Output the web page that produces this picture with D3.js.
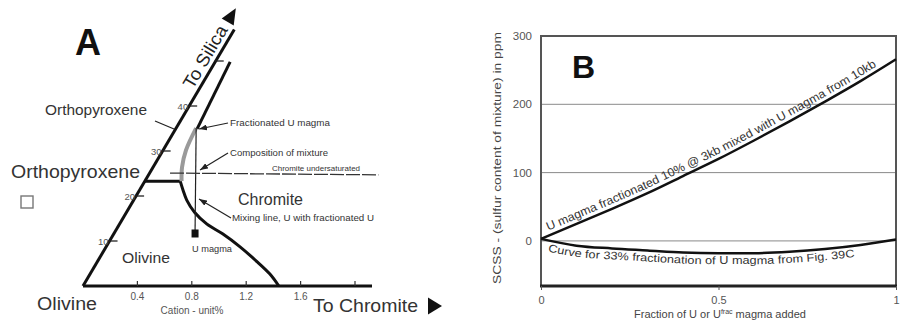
<!DOCTYPE html>
<html>
<head>
<meta charset="utf-8">
<script src="https://cdn.jsdelivr.net/npm/d3@7"></script>
<style>
  body { margin: 0; background: #fff; }
  svg { display: block; }
  text { font-family: "Liberation Sans", Arial, Helvetica, sans-serif; }
</style>
</head>
<body>
<svg id="chart" width="901" height="324"></svg>
<script>
// ---------------- Panel A data: pseudo-ternary, [chromite cation %, silica] ----------------
const chromiteTicks = [0.4, 0.8, 1.2, 1.6, 2.0];
const chromiteTickLabels = ["0.4", "0.8", "1.2", "1.6", ""];
const silicaTicks = [10, 20, 30, 40, 50];
const silicaTickLabels = ["10", "20", "30", "40", ""];
const silicaAxisTop = 57;
const chromiteAxisEnd = 2.125;
const opxOlivineBoundary = [[0, 23.3], [0.26, 23.3]];
const olivineChromiteBoundary = [
  [0.26, 23.3], [0.32, 21.3], [0.39, 19.1], [0.50, 16.4], [0.64, 13.8],
  [0.80, 11.6], [0.985, 8.7], [1.18, 5.3], [1.32, 2.7], [1.44, 0]
];
const opxChromiteBoundary = [[0.158, 34.9], [0.11, 49.8]];
const fractionationPath = [[0.147, 35.1], [0.168, 30.2], [0.213, 26.4], [0.27, 23.3]];
const mixingLine = [[0.147, 35.1], [0.594, 11.78]];
const saturationLine = [[0.15, 25.1], [1.69, 24.7]];
const uMagma = [0.594, 11.78];

// ---------------- Panel B data ----------------
const fraction = [0, 0.1, 0.2, 0.3, 0.4, 0.5, 0.6, 0.7, 0.8, 0.9, 1.0];
const mixedSulfur = [3, 25, 47, 70, 95, 120, 147, 175, 204, 234, 266];
const fractionatedSulfur = [3, -7, -11, -14, -17, -18, -18, -16, -12, -6, 2];
const sulfurTicks = [0, 100, 200, 300];
const fractionTicks = [0, 0.5, 1];
const fractionTickLabels = ["0", "0.5", "1"];

const svg = d3.select("#chart");

const defs = svg.append("defs");
defs.append("marker")
  .attr("id", "leadArrow")
  .attr("viewBox", "0 0 8 6")
  .attr("refX", 8).attr("refY", 3)
  .attr("markerWidth", 8).attr("markerHeight", 6)
  .attr("markerUnits", "userSpaceOnUse")
  .attr("orient", "auto")
  .append("path").attr("d", "M0,0L8,3L0,6Z").attr("fill", "#222");

// ================= Panel A =================
const gA = svg.append("g");
const cx = d3.scaleLinear().domain([0, 2]).range([83, 355]);
const sy = d3.scaleLinear().domain([0, 50]).range([286, 61]);
const lean = 151 / 256;                       // silica axis drifts right as it rises
const px = d => cx(d[0]) + (sy(0) - sy(d[1])) * lean;
const py = d => sy(d[1]);
const lineA = d3.line().x(px).y(py);
const smoothA = d3.line().x(px).y(py).curve(d3.curveCatmullRom.alpha(0.5));

// axes
gA.append("path").attr("d", lineA([[0, 0], [chromiteAxisEnd, 0]]))
  .attr("stroke", "#111").attr("stroke-width", 3).attr("fill", "none");
gA.append("path").attr("d", lineA([[0, 0], [0, silicaAxisTop]]))
  .attr("stroke", "#111").attr("stroke-width", 3).attr("fill", "none");

// chromite ticks
gA.selectAll(".ct").data(chromiteTicks).join("line")
  .attr("x1", d => px([d, 0])).attr("x2", d => px([d, 0]))
  .attr("y1", sy(0)).attr("y2", sy(0) - 5)
  .attr("stroke", "#333").attr("stroke-width", 1.2);
gA.selectAll(".ctl").data(chromiteTicks).join("text")
  .attr("x", d => px([d, 0])).attr("y", 300)
  .attr("text-anchor", "middle").attr("font-size", 10).attr("fill", "#555")
  .text((d, i) => chromiteTickLabels[i]);
gA.append("text").attr("x", 192).attr("y", 314).attr("text-anchor", "middle")
  .attr("font-size", 10).attr("fill", "#555").text("Cation - unit%");

// silica ticks
gA.selectAll(".st").data(silicaTicks).join("line")
  .attr("x1", d => px([0, d]) - 1).attr("x2", d => px([0, d]) + 8)
  .attr("y1", d => sy(d)).attr("y2", d => sy(d))
  .attr("stroke", "#222").attr("stroke-width", 1.3);
gA.selectAll(".stl").data(silicaTicks).join("text")
  .attr("x", d => px([0, d]) - 1).attr("y", d => sy(d) + 3.5)
  .attr("text-anchor", "end").attr("font-size", 9.5).attr("fill", "#555")
  .text((d, i) => silicaTickLabels[i]);

// arrow heads at axis ends
const tipS = silicaAxisTop + 3;
gA.append("path").attr("d", "M0,-9L7,7L-7,7Z")
  .attr("transform", `translate(${px([0, tipS]) - 11},${sy(tipS)}) rotate(${Math.atan(lean) * 180 / Math.PI})`)
  .attr("fill", "#111");
gA.append("path").attr("d", "M0,-8.5L14,0L0,8.5Z")
  .attr("transform", "translate(428,306)").attr("fill", "#111");

// phase boundaries
gA.append("path").attr("d", lineA(opxOlivineBoundary))
  .attr("stroke", "#111").attr("stroke-width", 3).attr("fill", "none");
gA.append("path").attr("d", smoothA(olivineChromiteBoundary))
  .attr("stroke", "#111").attr("stroke-width", 3).attr("fill", "none");
gA.append("path").attr("d", lineA(opxChromiteBoundary))
  .attr("stroke", "#111").attr("stroke-width", 3).attr("fill", "none");
gA.append("path").attr("d", smoothA(fractionationPath))
  .attr("stroke", "#9a9a9a").attr("stroke-width", 4).attr("fill", "none");

// mixing line and saturation line
gA.append("path").attr("d", lineA(mixingLine))
  .attr("stroke", "#222").attr("stroke-width", 1.2).attr("fill", "none");
gA.append("path").attr("d", lineA(saturationLine))
  .attr("stroke", "#333").attr("stroke-width", 1.3).attr("fill", "none")
  .attr("stroke-dasharray", "14,2");

// U magma
gA.append("rect")
  .attr("x", px(uMagma) - 3.5).attr("y", py(uMagma) - 3.5)
  .attr("width", 7).attr("height", 8).attr("fill", "#111");

// leader lines
const leaders = [
  [228, 123, 199, 129],
  [228, 153, 200, 170],
  [231, 218, 199, 199]
];
gA.selectAll(".lead").data(leaders).join("line")
  .attr("x1", d => d[0]).attr("y1", d => d[1])
  .attr("x2", d => d[2]).attr("y2", d => d[3])
  .attr("stroke", "#222").attr("stroke-width", 1.2)
  .attr("marker-end", "url(#leadArrow)");
gA.append("line").attr("x1", 155).attr("y1", 121).attr("x2", 174).attr("y2", 129)
  .attr("stroke", "#222").attr("stroke-width", 1.3);

// labels
function labelA(x, y, txt, size, width, opts = {}) {
  const t = gA.append("text").attr("x", x).attr("y", y)
    .attr("font-size", size).attr("fill", opts.fill || "#333")
    .attr("font-weight", opts.weight || "normal").text(txt);
  if (width) t.attr("textLength", width).attr("lengthAdjust", "spacingAndGlyphs");
  return t;
}
labelA(75, 55, "A", 36, null, { weight: "bold", fill: "#111" });
labelA(45, 115, "Orthopyroxene", 15, 102);
labelA(11, 178, "Orthopyroxene", 18.5, 129);
labelA(122, 263, "Olivine", 15, 48);
labelA(37, 310, "Olivine", 18, 60);
labelA(238, 205, "Chromite", 16, 65);
labelA(313, 312, "To Chromite", 19, 105);
labelA(230, 126, "Fractionated U magma", 8.5, 100);
labelA(230, 156, "Composition of mixture", 8.5, 98);
labelA(272, 171, "Chromite undersaturated", 8, 88);
labelA(232, 221, "Mixing line, U with fractionated U", 8.5, 142);
labelA(192, 252, "U magma", 8.5, 40);

gA.append("rect").attr("x", 21).attr("y", 196).attr("width", 12).attr("height", 12)
  .attr("fill", "none").attr("stroke", "#777").attr("stroke-width", 1.4);

const silicaAngle = -Math.atan2(1, lean) * 180 / Math.PI;
gA.append("text")
  .attr("transform", `translate(${px([0, 43]) - 4.5},${sy(43) - 2.5}) rotate(${silicaAngle})`)
  .attr("font-size", 18).attr("fill", "#222")
  .attr("textLength", 70).attr("lengthAdjust", "spacingAndGlyphs")
  .text("To Silica");

// ================= Panel B =================
const gB = svg.append("g");
const bx = d3.scaleLinear().domain([0, 1]).range([541, 896]);
const by = d3.scaleLinear().domain([-66, 300]).range([286, 36]);

// grid
gB.selectAll(".grid").data([0, 100, 200]).join("line")
  .attr("x1", bx(0)).attr("x2", bx(1))
  .attr("y1", d => by(d)).attr("y2", d => by(d))
  .attr("stroke", "#8a8a8a").attr("stroke-width", 1);

// frame
gB.append("rect").attr("x", bx(0)).attr("y", by(300))
  .attr("width", bx(1) - bx(0)).attr("height", by(-66) - by(300))
  .attr("fill", "none").attr("stroke", "#555").attr("stroke-width", 2);
gB.append("line").attr("x1", bx(0) - 1).attr("x2", bx(1) + 1)
  .attr("y1", by(-66)).attr("y2", by(-66))
  .attr("stroke", "#222").attr("stroke-width", 3);

// axes
const yAxis = d3.axisLeft(by).tickValues(sulfurTicks).tickSize(0).tickPadding(9);
gB.append("g").attr("transform", `translate(${bx(0)},0)`).call(yAxis)
  .call(g => g.select(".domain").remove())
  .call(g => g.selectAll("text").attr("font-size", 11.5).attr("fill", "#555")
    .attr("font-family", "Liberation Sans, Arial, sans-serif"));

const xAxis = d3.axisBottom(bx).tickValues(fractionTicks)
  .tickFormat((d, i) => fractionTickLabels[i]).tickSize(4).tickPadding(6);
gB.append("g").attr("transform", `translate(0,${by(-66)})`).call(xAxis)
  .call(g => g.select(".domain").remove())
  .call(g => g.selectAll("line").attr("stroke", "#555"))
  .call(g => g.selectAll("text").attr("font-size", 11).attr("fill", "#555")
    .attr("font-family", "Liberation Sans, Arial, sans-serif"));

// curves
const rowsMixed = fraction.map((f, i) => [f, mixedSulfur[i]]);
const rowsFrac = fraction.map((f, i) => [f, fractionatedSulfur[i]]);
const curveB = d3.line().x(d => bx(d[0])).y(d => by(d[1])).curve(d3.curveMonotoneX);
gB.append("path").attr("d", curveB(rowsMixed))
  .attr("stroke", "#111").attr("stroke-width", 2.5).attr("fill", "none");
gB.append("path").attr("d", curveB(rowsFrac))
  .attr("stroke", "#111").attr("stroke-width", 2.5).attr("fill", "none");

// curve labels: each word rides its own textPath along a shifted copy of the curve
const shifted = dy => d3.line().x(d => bx(d[0])).y(d => by(d[1]) + dy).curve(d3.curveMonotoneX);
defs.append("path").attr("id", "mixedLabelPath").attr("d", shifted(-5)(rowsMixed));
defs.append("path").attr("id", "fracLabelPath").attr("d", shifted(11)(rowsFrac));

function curveLabel(pathId, sentence, size, start, total) {
  const words = sentence.split(" ");
  const probe = gB.append("text").attr("font-size", size).attr("visibility", "hidden");
  const widths = words.map(w => { probe.text(w); return probe.node().getComputedTextLength(); });
  probe.text("\u00a0");
  const gap = probe.node().getComputedTextLength();
  probe.remove();
  const natural = d3.sum(widths) + gap * (words.length - 1);
  const k = total / natural;
  let offset = start;
  words.forEach((w, i) => {
    gB.append("text").attr("font-size", size).attr("fill", "#333")
      .append("textPath").attr("href", "#" + pathId).attr("startOffset", offset)
      .attr("textLength", widths[i] * k).attr("lengthAdjust", "spacingAndGlyphs")
      .text(w);
    offset += (widths[i] + gap) * k;
  });
}
curveLabel("mixedLabelPath", "U magma fractionated 10% @ 3kb mixed with U magma from 10kb", 12, 8, 368);
curveLabel("fracLabelPath", "Curve for 33% fractionation of U magma from Fig. 39C", 11, 7, 308);

// titles
gB.append("text").attr("x", 572).attr("y", 78).attr("font-size", 32)
  .attr("font-weight", "bold").attr("fill", "#111").text("B");
gB.append("text").attr("transform", "translate(501,158) rotate(-90)")
  .attr("text-anchor", "middle").attr("font-size", 11.5).attr("fill", "#444")
  .attr("textLength", 252).attr("lengthAdjust", "spacingAndGlyphs")
  .text("SCSS - (sulfur content of mixture) in ppm");
const xt = gB.append("text").attr("x", 720).attr("y", 318)
  .attr("text-anchor", "middle").attr("font-size", 11).attr("fill", "#444");
xt.append("tspan").text("Fraction of U or U");
xt.append("tspan").attr("font-size", 7).attr("dy", -4).text("frac");
xt.append("tspan").attr("dy", 4).text(" magma added");
</script>
</body>
</html>
